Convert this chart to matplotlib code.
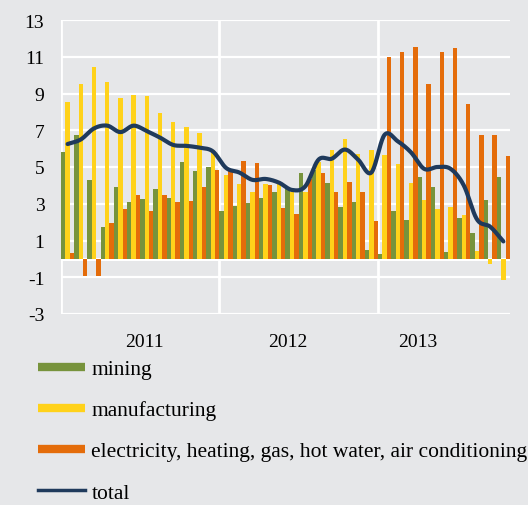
import numpy as np
import matplotlib
matplotlib.use("Agg")
import matplotlib.pyplot as plt
from matplotlib.lines import Line2D

# ---- data (monthly, Jan 2011 - Oct 2013) ----
years = ["2011", "2012", "2013"]
year_label_pos = [5.8, 16.7, 26.55]
y_ticks = [-3, -1, 1, 3, 5, 7, 9, 11, 13]

mining = [5.8, 6.75, 4.3, 1.75, 3.9, 3.1, 3.25, 3.8, 3.3, 5.25, 4.8, 5.0,
          2.6, 2.9, 3.05, 3.3, 3.65, 3.8, 4.65, 4.85, 4.15, 2.8, 3.1, 0.5,
          0.25, 2.6, 2.1, 4.45, 3.9, 0.35, 2.2, 1.4, 3.2, 4.45]
manufacturing = [8.55, 9.5, 10.45, 9.65, 8.75, 8.9, 8.85, 7.95, 7.45, 7.2, 6.85, 5.9,
                 4.55, 4.1, 3.65, 4.05, 4.05, 3.65, 3.65, 5.25, 5.9, 6.55, 5.7, 5.95,
                 5.65, 5.15, 4.15, 3.2, 2.7, 2.85, 2.4, 0.45, -0.3, -1.15]
electricity = [0.3, -0.95, -0.95, 1.95, 2.7, 3.5, 2.6, 3.5, 3.1, 3.15, 3.9, 4.85,
               4.85, 5.35, 5.2, 4.0, 2.75, 2.45, 4.35, 4.7, 3.65, 4.2, 3.65, 2.05,
               11.0, 11.25, 11.55, 9.5, 11.25, 11.5, 8.45, 6.75, 6.75, 5.6]
total = [6.25, 6.5, 7.1, 7.25, 6.9, 7.25, 6.95, 6.6, 6.2, 6.15, 6.05, 5.85,
         4.95, 4.7, 4.3, 4.35, 4.15, 3.75, 3.95, 5.4, 5.45, 5.95, 5.4, 4.7,
         6.75, 6.4, 5.8, 4.9, 5.0, 4.9, 4.0, 2.15, 1.75, 0.95]

labels = ["mining", "manufacturing",
          "electricity, heating, gas, hot water, air conditioning", "total"]
colors = ["#77933c", "#ffd21a", "#e46c0a", "#1f3a5c"]
bg = "#e6e7e9"


def catmull_rom(x, y, n=20):
    x = np.asarray(x, float)
    y = np.asarray(y, float)
    px = np.concatenate([[2 * x[0] - x[1]], x, [2 * x[-1] - x[-2]]])
    py = np.concatenate([[2 * y[0] - y[1]], y, [2 * y[-1] - y[-2]]])
    t = np.linspace(0, 1, n, endpoint=False)
    ox, oy = [], []
    for i in range(1, len(px) - 2):
        for P, out in ((px, ox), (py, oy)):
            p0, p1, p2, p3 = P[i - 1], P[i], P[i + 1], P[i + 2]
            out.extend(0.5 * ((2 * p1) + (-p0 + p2) * t
                              + (2 * p0 - 5 * p1 + 4 * p2 - p3) * t ** 2
                              + (-p0 + 3 * p1 - 3 * p2 + p3) * t ** 3))
    ox.append(x[-1])
    oy.append(y[-1])
    return np.array(ox), np.array(oy)


plt.rcParams["font.family"] = ["Liberation Serif", "DejaVu Serif"]

fig = plt.figure(figsize=(5.28, 5.06), dpi=100, facecolor=bg)
ax = fig.add_axes([61 / 528, 1 - 315 / 506, 449 / 528, 294 / 506], facecolor=bg)

n = len(total)
x = np.arange(n)
w = 1 / 3

for yv in y_ticks:
    ax.axhline(yv, color="white", lw=1.6, zorder=0)
ax.axhline(0, color="white", lw=2.2, zorder=0.5)
for xv in [-0.5, 11.5, 23.5]:
    ax.axvline(xv, color="white", lw=2.0, zorder=0)

ax.bar(x - w, mining, width=w, color=colors[0], zorder=2)
ax.bar(x, manufacturing, width=w, color=colors[1], zorder=2)
ax.bar(x + w, electricity, width=w, color=colors[2], zorder=2)

sx, sy = catmull_rom(x, total)
ax.plot(sx, sy, color=colors[3], lw=3.0, zorder=3, solid_capstyle="round")

ax.set_xlim(-0.5, n - 0.5)
ax.set_ylim(-3, 13)
ax.set_yticks(y_ticks)
ax.set_yticklabels([str(v) for v in y_ticks])
ax.set_xticks(year_label_pos)
ax.set_xticklabels(years)
ax.tick_params(axis="y", length=0, pad=12, labelsize=14)
ax.tick_params(axis="x", length=0, pad=14, labelsize=14)
for s in ax.spines.values():
    s.set_visible(False)

handles = [Line2D([], [], color=colors[0], lw=6, solid_capstyle="butt"),
           Line2D([], [], color=colors[1], lw=6, solid_capstyle="butt"),
           Line2D([], [], color=colors[2], lw=6, solid_capstyle="butt"),
           Line2D([], [], color=colors[3], lw=2.5)]
fig.legend(handles, labels, loc="upper left", bbox_to_anchor=(38 / 528, 1 - 360 / 506),
           frameon=False, fontsize=15.5, handlelength=2.2, handletextpad=0.28,
           labelspacing=0.98, borderaxespad=0, borderpad=0)

fig.savefig("out.png", dpi=100, facecolor=bg)
